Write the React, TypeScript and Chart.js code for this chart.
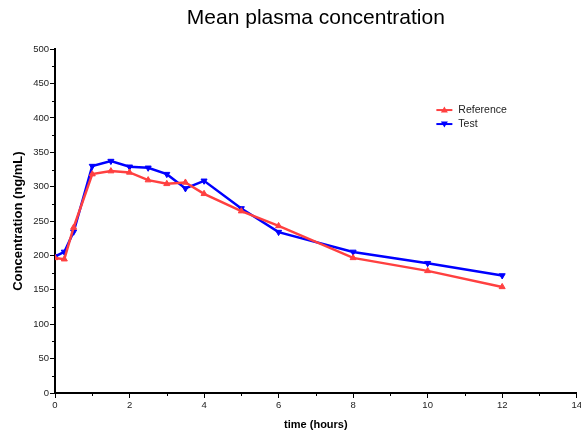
import React, { useEffect, useRef } from "react";
import { Chart, registerables } from "chart.js";

Chart.register(...registerables);

const times: number[] = [0, 0.25, 0.5, 1, 1.5, 2, 2.5, 3, 3.5, 4, 5, 6, 8, 10, 12];
const referenceValues: number[] = [196.5, 194.6, 240.7, 318.3, 322.7, 320.8, 309.6, 304.2, 306.2, 289.7, 264.5, 243, 196.5, 177.6, 154.3];
const testValues: number[] = [198.5, 205.2, 234.4, 330, 337.3, 329, 327.5, 318.3, 297.5, 308.6, 268.4, 234, 205.2, 188.8, 170.9];
const seriesLabels: string[] = ["Reference", "Test"];
const titleText = "Mean plasma concentration";
const xTitle = "time (hours)";
const yTitle = "Concentration (ng/mL)";

const RED = "rgb(255,64,64)";
const BLUE = "rgb(0,0,255)";
const FONT = "Arial, 'Liberation Sans', sans-serif";

const minorTicks = {
  id: "minorTicks",
  afterDraw(chart: any) {
    const ctx = chart.ctx;
    ctx.save();
    ctx.strokeStyle = "#000";
    ctx.lineWidth = 1;
    const ys = chart.scales.y;
    ys.ticks.forEach((t: any, i: number) => {
      if (t.value % 50 !== 0) {
        const p = Math.round(ys.getPixelForTick(i)) + 0.5;
        ctx.beginPath();
        ctx.moveTo(ys.right - 3, p);
        ctx.lineTo(ys.right, p);
        ctx.stroke();
      }
    });
    const xs = chart.scales.x;
    xs.ticks.forEach((t: any, i: number) => {
      if (t.value % 2 !== 0) {
        const p = Math.round(xs.getPixelForTick(i)) + 0.5;
        ctx.beginPath();
        ctx.moveTo(p, xs.top);
        ctx.lineTo(p, xs.top + 3);
        ctx.stroke();
      }
    });
    ctx.restore();
  },
};

const insideLegend = {
  id: "insideLegend",
  afterDraw(chart: any) {
    const { ctx, chartArea } = chart;
    const w = chartArea.right - chartArea.left;
    const h = chartArea.bottom - chartArea.top;
    const x0 = chartArea.left + 0.731 * w;
    const y0 = chartArea.top + 0.177 * h;
    ctx.save();
    chart.data.datasets.forEach((ds: any, i: number) => {
      const y = y0 + i * 14;
      ctx.strokeStyle = ds.borderColor;
      ctx.lineWidth = 2;
      ctx.beginPath();
      ctx.moveTo(x0, y);
      ctx.lineTo(x0 + 16, y);
      ctx.stroke();
      ctx.fillStyle = ds.borderColor;
      const r = 3.5;
      ctx.beginPath();
      if (i === 0) {
        ctx.moveTo(x0 + 8, y - r);
        ctx.lineTo(x0 + 8 + r, y + r * 0.7);
        ctx.lineTo(x0 + 8 - r, y + r * 0.7);
      } else {
        ctx.moveTo(x0 + 8, y + r);
        ctx.lineTo(x0 + 8 + r, y - r * 0.7);
        ctx.lineTo(x0 + 8 - r, y - r * 0.7);
      }
      ctx.closePath();
      ctx.fill();
      ctx.fillStyle = "#222";
      ctx.font = `10.5px ${FONT}`;
      ctx.textBaseline = "middle";
      ctx.textAlign = "left";
      ctx.fillText(ds.label, x0 + 22, y);
    });
    ctx.restore();
  },
};

export default function App() {
  const ref = useRef<HTMLCanvasElement>(null);
  useEffect(() => {
    if (!ref.current) return;
    const chart = new Chart(ref.current, {
      type: "line",
      data: {
        datasets: [
          {
            label: seriesLabels[0],
            data: times.map((t, i) => ({ x: t, y: referenceValues[i] })),
            borderColor: RED,
            backgroundColor: RED,
            borderWidth: 2.5,
            pointStyle: "triangle",
            pointRadius: 3.5,
            pointBorderWidth: 1,
            tension: 0,
          },
          {
            label: seriesLabels[1],
            data: times.map((t, i) => ({ x: t, y: testValues[i] })),
            borderColor: BLUE,
            backgroundColor: BLUE,
            borderWidth: 2.5,
            pointStyle: "triangle",
            pointRotation: 180,
            pointRadius: 3.5,
            pointBorderWidth: 1,
            tension: 0,
          },
        ],
      },
      options: {
        animation: false,
        responsive: false,
        devicePixelRatio: 1,
        layout: { padding: 0 },
        plugins: {
          legend: { display: false },
          tooltip: { enabled: false },
          title: {
            display: true,
            text: titleText,
            fullSize: false,
            color: "#000",
            font: { family: FONT, size: 21, weight: "normal" },
            padding: { top: 6, bottom: 18 },
          },
        },
        scales: {
          x: {
            type: "linear",
            min: 0,
            max: 14,
            afterFit: (s: any) => {
              s.height = 44;
            },
            border: { display: true, color: "#000", width: 2 },
            grid: {
              drawOnChartArea: false,
              drawTicks: true,
              tickLength: 5,
              tickColor: (c: any) => (c.tick && c.tick.value % 2 !== 0 ? "rgba(0,0,0,0)" : "#000"),
              tickWidth: 1,
            },
            ticks: {
              stepSize: 1,
              autoSkip: false,
              maxRotation: 0,
              padding: 2,
              color: "#222",
              font: { family: FONT, size: 9.5 },
              callback: (v: any) => (Number(v) % 2 === 0 ? String(v) : ""),
            },
            title: {
              display: true,
              text: xTitle,
              color: "#000",
              font: { family: FONT, size: 11, weight: "bold" },
              padding: { top: 0, bottom: 5 },
            },
          },
          y: {
            type: "linear",
            min: 0,
            max: 500,
            afterFit: (s: any) => {
              s.width = 55;
            },
            border: { display: true, color: "#000", width: 2 },
            grid: {
              drawOnChartArea: false,
              drawTicks: true,
              tickLength: 5,
              tickColor: (c: any) => (c.tick && c.tick.value % 50 !== 0 ? "rgba(0,0,0,0)" : "#000"),
              tickWidth: 1,
            },
            ticks: {
              stepSize: 25,
              autoSkip: false,
              padding: 1,
              color: "#222",
              font: { family: FONT, size: 9.5 },
              callback: (v: any) => (Number(v) % 50 === 0 ? String(v) : ""),
            },
            title: {
              display: true,
              text: yTitle,
              color: "#000",
              font: { family: FONT, size: 13, weight: "bold" },
              padding: { top: 11, bottom: 0 },
            },
          },
        },
      },
      plugins: [minorTicks, insideLegend],
    });
    return () => chart.destroy();
  }, []);
  return (
    <div style={{ position: "fixed", left: 0, top: 0, width: 581, height: 437, overflow: "hidden", background: "#fff" }}>
      <canvas ref={ref} width={584} height={437} />
    </div>
  );
}
